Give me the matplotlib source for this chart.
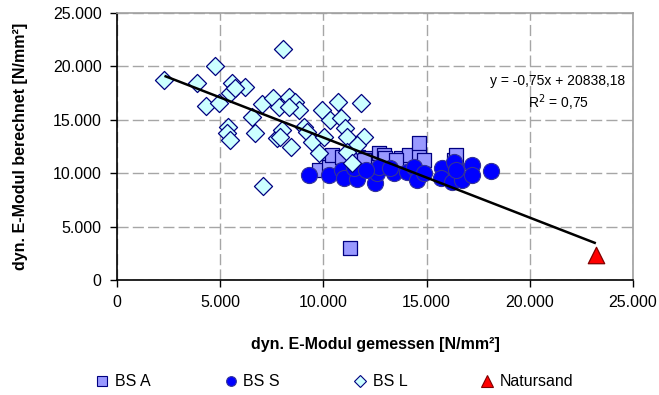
import matplotlib
matplotlib.use("Agg")
import matplotlib.pyplot as plt
from matplotlib.ticker import FuncFormatter, MultipleLocator
from matplotlib.lines import Line2D

plt.rcParams['font.family'] = ['Liberation Sans', 'DejaVu Sans']

# ---- data ----
bs_a_x = [10250, 10660, 10980, 11700, 12120, 12690, 12920, 13740, 14140, 14630,
          14870, 9770, 10260, 12120, 16330, 14630, 16440, 11280, 10420, 10900,
          11960, 13000, 13500]
bs_a_y = [11550, 11390, 11330, 11550, 11390, 11860, 11700, 11390, 11700, 11700,
          11240, 10300, 10610, 10610, 11240, 12800, 11700, 2970, 11700, 11550,
          11240, 11400, 11200]

bs_s_x = [9290, 10260, 10900, 10990, 11630, 11470, 12520, 12600, 12690, 13410,
          14060, 14380, 14550, 14870, 15760, 15680, 16240, 16410, 16330, 16730,
          17210, 17210, 18110, 13250, 12040, 16410]
bs_s_y = [9830, 9830, 10300, 9520, 9430, 10460, 9050, 9990, 10610, 9990,
          10150, 10610, 9360, 9990, 10460, 9520, 9210, 10610, 11080, 9360,
          10770, 9830, 10230, 10460, 10300, 10300]

bs_l_x = [2300, 3900, 4750, 4300, 4950, 5580, 5490, 6210, 5730, 5370,
          5320, 5490, 6540, 6700, 7020, 7550, 7830, 8040, 8350, 8640,
          8800, 8320, 7750, 7990, 7910, 8450, 9040, 9200, 9450, 9770,
          9930, 10340, 10710, 10830, 11070, 11150, 11800, 11960, 11640, 11150,
          11390, 7050, 10010]
bs_l_y = [18700, 18450, 20050, 16300, 16550, 18420, 17480, 18040, 17980, 14360,
          13730, 13110, 15230, 13730, 16480, 17010, 16170, 21660, 17160, 16700,
          15920, 16230, 13260, 14040, 13420, 12420, 14360, 13890, 12950, 11860,
          15920, 14980, 16700, 15140, 14200, 13420, 16600, 13420, 12640, 12020,
          10920, 8830, 13420]

natur_x = [23200]
natur_y = [2300]

trend_slope = -0.75
trend_intercept = 20838.18
trend_label = "y = -0,75x + 20838,18"
r2_label = "R$^2$ = 0,75"

series_names = ["BS A", "BS S", "BS L", "Natursand"]
x_label = "dyn. E-Modul gemessen [N/mm²]"
y_label = "dyn. E-Modul berechnet [N/mm²]"

# ---- figure ----
W, H = 659, 395
fig = plt.figure(figsize=(W / 100, H / 100), dpi=100)
ax = fig.add_axes([117 / W, 1 - 280 / H, (633 - 117) / W, (280 - 13) / H])

ax.set_xlim(0, 25000)
ax.set_ylim(0, 25000)
ax.xaxis.set_major_locator(MultipleLocator(5000))
ax.yaxis.set_major_locator(MultipleLocator(5000))
fmt = FuncFormatter(lambda v, p: f"{int(v):,}".replace(",", "."))
ax.xaxis.set_major_formatter(fmt)
ax.yaxis.set_major_formatter(fmt)

ax.grid(True, color='#a6a6a6', linestyle=(0, (8, 3)), linewidth=1.0, zorder=0)
ax.set_axisbelow(True)

for s in ['top', 'right']:
    ax.spines[s].set_color('#a0a0a0')
    ax.spines[s].set_linewidth(1.2)
for s in ['left', 'bottom']:
    ax.spines[s].set_color('black')
    ax.spines[s].set_linewidth(1.2)

ax.tick_params(axis='both', direction='out', length=5, width=1, labelsize=11.5,
               colors='black', pad=6)

ax.scatter(bs_a_x, bs_a_y, marker='s', s=92, facecolor='#9999FF',
           edgecolor='#000080', linewidth=0.9, zorder=3)
ax.scatter(bs_s_x, bs_s_y, marker='o', s=135, facecolor='#0000FF',
           edgecolor='#333399', linewidth=0.8, zorder=4)
ax.scatter(bs_l_x, bs_l_y, marker='D', s=85, facecolor='#CCFFFF',
           edgecolor='#000080', linewidth=0.9, zorder=5)
ax.scatter(natur_x, natur_y, marker='^', s=140, facecolor='#FF0000',
           edgecolor='#800000', linewidth=0.9, zorder=5)

all_x = bs_a_x + bs_s_x + bs_l_x + natur_x
x0, x1 = min(all_x), max(all_x)
ax.plot([x0, x1], [trend_slope * x0 + trend_intercept, trend_slope * x1 + trend_intercept],
        color='black', linewidth=1.8, zorder=6, solid_capstyle='butt')

ax.text(0.985, 0.745, trend_label, transform=ax.transAxes, ha='right', va='center',
        fontsize=10, zorder=7)
ax.text(0.855, 0.665, r2_label, transform=ax.transAxes, ha='center', va='center',
        fontsize=10, zorder=7)

ax.set_xlabel(x_label, fontsize=11.5, fontweight='bold', labelpad=19)
ax.set_ylabel(y_label, fontsize=11.5, fontweight='bold', labelpad=18)

handles = [
    Line2D([], [], marker='s', linestyle='none', markersize=7, markerfacecolor='#9999FF',
           markeredgecolor='#000080', markeredgewidth=0.8),
    Line2D([], [], marker='o', linestyle='none', markersize=7, markerfacecolor='#0000FF',
           markeredgecolor='#333399', markeredgewidth=0.8),
    Line2D([], [], marker='D', linestyle='none', markersize=6, markerfacecolor='#CCFFFF',
           markeredgecolor='#000080', markeredgewidth=0.8),
    Line2D([], [], marker='^', linestyle='none', markersize=8, markerfacecolor='#FF0000',
           markeredgecolor='#800000', markeredgewidth=0.8),
]
fig.legend(handles, series_names, loc='center left', bbox_to_anchor=(96 / W, 1 - 382 / H),
           ncol=4, frameon=False, fontsize=11.5, handlelength=0.8, handletextpad=0.4,
           columnspacing=4.6, borderaxespad=0, borderpad=0)

fig.savefig("out.png", dpi=100)
